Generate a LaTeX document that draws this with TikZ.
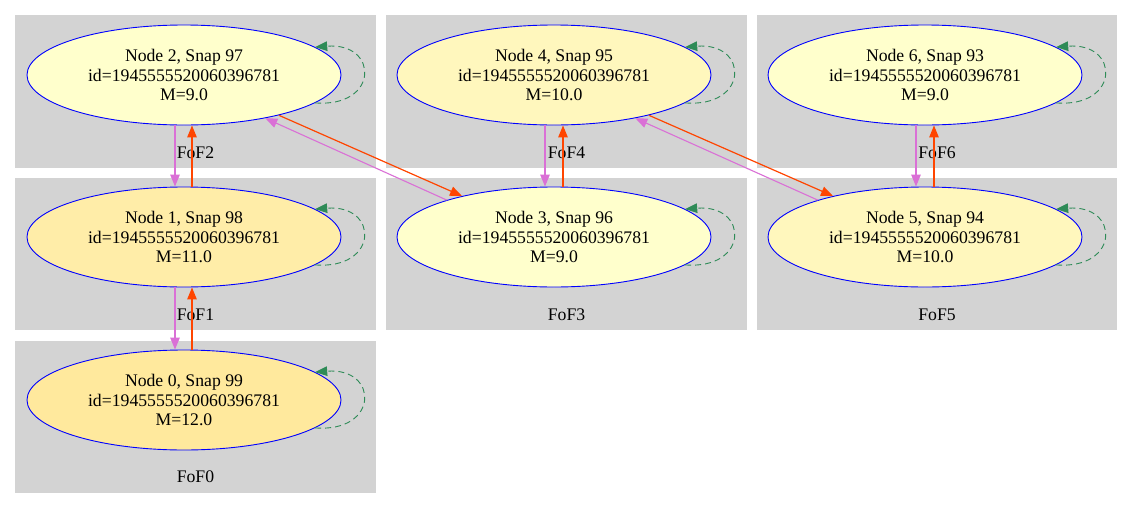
\documentclass[tikz,border=0pt]{standalone}
\usepackage{fontspec}
\setmainfont{Liberation Serif}
\usetikzlibrary{arrows.meta,shapes.geometric}
\definecolor{fofgray}{HTML}{D3D3D3}
\definecolor{descc}{HTML}{DA70D6}
\definecolor{progc}{HTML}{FF4500}
\definecolor{loopc}{HTML}{2E8B57}
\definecolor{m9}{HTML}{FFFFCC}
\definecolor{m10}{HTML}{FFF7BD}
\definecolor{m11}{HTML}{FFEDA8}
\definecolor{m12}{HTML}{FFE99D}
\begin{document}
\begin{tikzpicture}[x=1pt,y=-1pt,font=\fontsize{17.7}{19.5}\selectfont,
    fof/.style={fill=fofgray},
    halo/.style={ellipse,draw=blue,line width=0.9pt,minimum width=314pt,minimum height=100pt,inner sep=0pt,align=center},
    desc/.style={draw=descc,line width=1.1pt,-{Triangle[length=12pt,width=9.5pt]}},
    prog/.style={draw=progc,line width=1.2pt,-{Triangle[length=12pt,width=9.5pt]}},
    selfloop/.style={draw=loopc,line width=0.9pt,dash pattern=on 6pt off 4pt,-{Triangle[length=12pt,width=9.5pt]}}]
      \path[use as bounding box,fill=white] (0,0) rectangle (1133,509);
      \fill[fof] (15,15) rectangle (376,168);
      \fill[fof] (15,178) rectangle (376,330);
      \fill[fof] (15,341) rectangle (376,493);
      \fill[fof] (386,15) rectangle (747,168);
      \fill[fof] (386,178) rectangle (747,330);
      \fill[fof] (757,15) rectangle (1117,168);
      \fill[fof] (757,178) rectangle (1117,330);
      \path
        (195.5,153) node (fof2){FoF2}
        (195.5,315) node (fof1){FoF1}
        (195.5,477) node (fof0){FoF0}
        (566.5,153) node (fof4){FoF4}
        (566.5,315) node (fof3){FoF3}
        (937,153) node (fof6){FoF6}
        (937,315) node (fof5){FoF5};
      \draw
        (184,75) node[halo,fill=m9] (2){Node 2, Snap 97\\id=1945555520060396781\\M=9.0}
        (184,237) node[halo,fill=m11] (1){Node 1, Snap 98\\id=1945555520060396781\\M=11.0}
        (184,400) node[halo,fill=m12] (0){Node 0, Snap 99\\id=1945555520060396781\\M=12.0}
        (554,75) node[halo,fill=m10] (4){Node 4, Snap 95\\id=1945555520060396781\\M=10.0}
        (554,237) node[halo,fill=m9] (3){Node 3, Snap 96\\id=1945555520060396781\\M=9.0}
        (925,75) node[halo,fill=m9] (6){Node 6, Snap 93\\id=1945555520060396781\\M=9.0}
        (925,237) node[halo,fill=m10] (5){Node 5, Snap 94\\id=1945555520060396781\\M=10.0};
      \begin{scope}
        \draw[desc] ([xshift=-9pt]2.south) -- ([xshift=-9pt]1.north);
        \draw[prog] ([xshift=8pt]1.north) -- ([xshift=8pt]2.south);
        \draw[desc] ([xshift=-9pt]1.south) -- ([xshift=-9pt]0.north);
        \draw[prog] ([xshift=8pt]0.north) -- ([xshift=8pt]1.south);
        \draw[desc] ([xshift=-9pt]4.south) -- ([xshift=-9pt]3.north);
        \draw[prog] ([xshift=9pt]3.north) -- ([xshift=9pt]4.south);
        \draw[desc] ([xshift=-9pt]6.south) -- ([xshift=-9pt]5.north);
        \draw[prog] ([xshift=9pt]5.north) -- ([xshift=9pt]6.south);
        \draw[prog] (2.-23) -- (3.156);
        \draw[desc] (3.161) -- (2.-28);
        \draw[prog] (4.-23) -- (5.156);
        \draw[desc] (5.161) -- (4.-28);
        \foreach \n in {0,...,6}
          \draw[selfloop] (\n.-12) .. controls +(64,5) and +(64,-5) .. (\n.12);
      \end{scope}
    \end{tikzpicture}
\end{document}
